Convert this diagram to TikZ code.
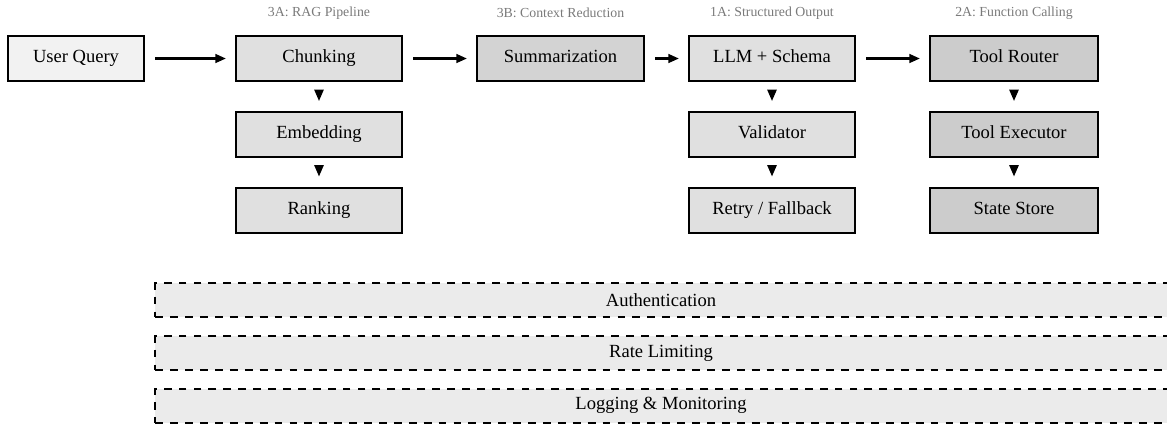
\documentclass[tikz,border=0pt]{standalone}
\usepackage{fontspec}
\setmainfont{Liberation Serif}
\usetikzlibrary{arrows.meta}
\definecolor{fillA}{HTML}{F2F2F2}
\definecolor{fillB}{HTML}{E0E0E0}
\definecolor{fillC}{HTML}{D3D3D3}
\definecolor{fillD}{HTML}{CCCCCC}
\definecolor{fillE}{HTML}{EBEBEB}
\definecolor{titlegray}{HTML}{7A7A7A}
\tikzset{
  box/.style={draw=black, line width=1.1pt, minimum width=91.3pt, minimum height=24.75pt, inner sep=0pt, text height=7pt, text depth=2.2pt, font=\fontsize{10.2}{12}\selectfont},
  grouptitle/.style={text=titlegray, font=\fontsize{7.6}{9}\selectfont, inner sep=0pt},
  harrow/.style={-{Triangle[length=5.8pt,width=4.8pt]}, line width=1.2pt},
  varrow/.style={-{Triangle[length=6.2pt,width=5pt]}, line width=1.1pt, shorten <=5.2pt, shorten >=5.5pt},
  layerbox/.style={draw=black, fill=fillE, line width=1.1pt, dash pattern=on 4.3pt off 3.9pt, minimum width=565pt, minimum height=18.7pt, inner sep=0pt},
  layertext/.style={font=\fontsize{10.2}{12}\selectfont, inner sep=0pt},
}
\begin{document}
\begin{tikzpicture}[x=0.55pt,y=-0.55pt]
\useasboundingbox (0,0) rectangle (1167,430);
% main row
\node[box, fill=fillA, minimum width=74.8pt] (uq) at (76,58.5) {User Query};
\node[box, fill=fillB] (chunk) at (319,58.5) {Chunking};
\node[box, fill=fillB] (embed) at (319,134.5) {Embedding};
\node[box, fill=fillB] (rank) at (319,210) {Ranking};
\node[box, fill=fillC, minimum width=91.85pt] (summ) at (560.5,58.5) {Summarization};
\node[box, fill=fillB] (llm) at (772,58.5) {LLM + Schema};
\node[box, fill=fillB] (valid) at (772,134.5) {Validator};
\node[box, fill=fillB] (retry) at (772,210) {Retry / Fallback};
\node[box, fill=fillD, minimum width=92.4pt] (router) at (1014,58.5) {Tool Router};
\node[box, fill=fillD, minimum width=92.4pt] (exec) at (1014,134.5) {Tool Executor};
\node[box, fill=fillD, minimum width=92.4pt] (store) at (1014,210) {State Store};
% titles
\node[grouptitle] (t3a) at (319,13) {3A: RAG Pipeline};
\node[grouptitle] (t3b) at (560.5,13) {3B: Context Reduction};
\node[grouptitle] (t1a) at (772,13) {1A: Structured Output};
\node[grouptitle] (t2a) at (1014,13) {2A: Function Calling};
% horizontal arrows
\draw[harrow, shorten <=5.5pt, shorten >=5pt] (uq) -- (chunk);
\draw[harrow, shorten <=5.5pt, shorten >=5pt] (chunk) -- (summ);
\draw[harrow, shorten <=5.5pt, shorten >=5pt] (summ) -- (llm);
\draw[harrow, shorten <=5.5pt, shorten >=5pt] (llm) -- (router);
% vertical arrows
\draw[varrow] (chunk) -- (embed);
\draw[varrow] (embed) -- (rank);
\draw[varrow] (llm) -- (valid);
\draw[varrow] (valid) -- (retry);
\draw[varrow] (router) -- (exec);
\draw[varrow] (exec) -- (store);
% cross-cutting layers
\node[layerbox] (auth) at (669,300) {};
\node[layerbox] (rate) at (669,353) {};
\node[layerbox] (log) at (669,405.5) {};
\node[layertext] (authtxt) at (661,300) {Authentication};
\node[layertext] (ratetxt) at (661,353) {Rate Limiting};
\node[layertext] (logtxt) at (661,405.5) {Logging \& Monitoring};
\end{tikzpicture}
\end{document}
